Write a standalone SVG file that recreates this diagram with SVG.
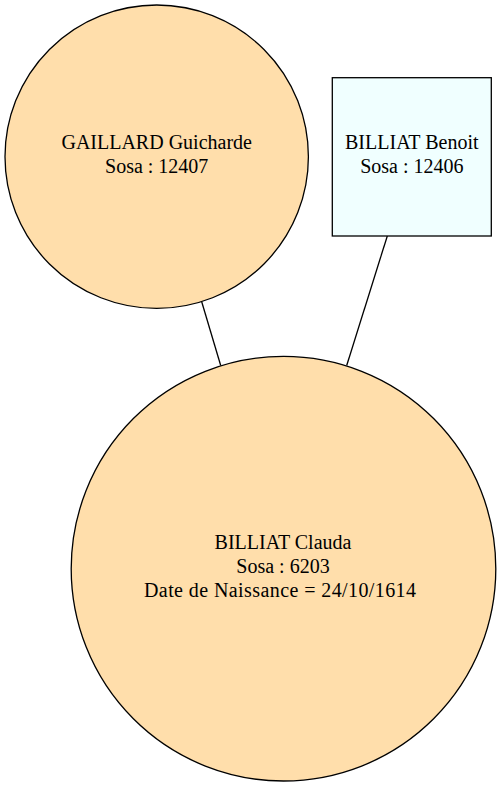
<svg xmlns="http://www.w3.org/2000/svg" width="501" height="787" viewBox="0 0 501 787">
<style>
.n{stroke:#000;stroke-width:1.3}
.f{fill:#ffdeab}
.m{fill:#f0ffff}
.t{font-size:20px;fill:#000;text-anchor:middle}
.e{stroke:#000;stroke-width:1.3;fill:none}
</style>
<rect width="501" height="787" fill="#fff"/>
<g id="edges">
<line class="e" x1="201.7" y1="301.7" x2="220.7" y2="365.5"/>
<line class="e" x1="387.3" y1="236" x2="346.7" y2="365.5"/>
</g>
<g font-family="'Liberation Serif', 'Times New Roman', Times, serif">
<g id="node_gaillard">
<circle class="n f" cx="156.7" cy="156.7" r="151.7"/>
<text class="t" x="156.7" y="149.3">GAILLARD Guicharde</text>
<text class="t" x="156.7" y="173.3">Sosa : 12407</text>
</g>
<g id="node_benoit">
<rect class="n m" x="332.3" y="77.7" width="159" height="158.3"/>
<text class="t" x="411.8" y="149.3">BILLIAT Benoit</text>
<text class="t" x="411.8" y="173.3">Sosa : 12406</text>
</g>
<g id="node_clauda">
<circle class="n f" cx="283.5" cy="568.7" r="212.3"/>
<text class="t" x="283" y="549.3">BILLIAT Clauda</text>
<text class="t" x="283" y="573.3">Sosa : 6203</text>
<text class="t" x="280" y="597.3" textLength="272" lengthAdjust="spacing">Date de Naissance = 24/10/1614</text>
</g>
</g>
</svg>
